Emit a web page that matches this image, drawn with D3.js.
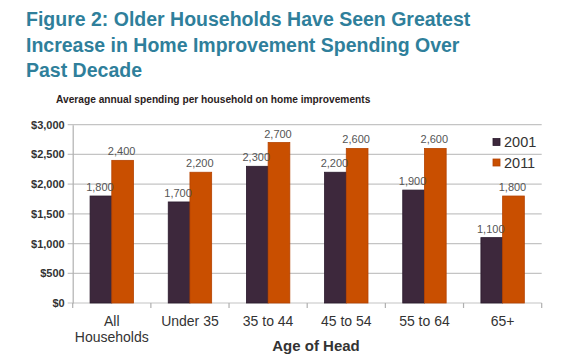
<!DOCTYPE html>
<html>
<head>
<meta charset="UTF-8">
<title>Home Improvement Spending</title>
<style>
html, body {
    margin: 0;
    padding: 0;
    background-color: #ffffff;
}
svg {
    display: block;
    font-family: "Liberation Sans", Arial, sans-serif;
}
.grid line {
    stroke: #c4c4c4;
    stroke-width: 1.2;
}
.y-axis text {
    font-weight: bold;
    font-size: 11px;
    fill: #333333;
}
.x-label {
    font-size: 14px;
    fill: #333333;
}
.value-label {
    font-size: 11px;
    fill: #555555;
}
</style>
</head>
<body>
<div class="chart"></div>
<script src="https://cdn.jsdelivr.net/npm/d3@7/dist/d3.min.js"></script>
<script>
let categories = ['All Households', 'Under 35', '35 to 44', '45 to 54', '55 to 64', '65+'];
let series = ['2001', '2011'];
let values2001 = [1800, 1700, 2300, 2200, 1900, 1100];
let values2011 = [2400, 2200, 2700, 2600, 2600, 1800];
let yTicks = [0, 500, 1000, 1500, 2000, 2500, 3000];

let width = 576, height = 362;
let plotLeft = 72.7, plotRight = 541.7, plotTop = 124.7, plotBottom = 303;
let colors = { '2001': '#3d283c', '2011': '#c94f00' };
let strokes = { '2001': '#2a1a2c', '2011': '#b54200' };

let svg = d3.select('.chart').append('svg')
    .attr('width', width)
    .attr('height', height);

// title
let titleLines = ['Figure 2: Older Households Have Seen Greatest',
    'Increase in Home Improvement Spending Over', 'Past Decade'];
svg.append('g').selectAll('text')
    .data(titleLines)
    .enter().append('text')
    .attr('x', 26)
    .attr('y', (d, i) => 26 + i * 25.5)
    .attr('font-size', '19.5px')
    .attr('font-weight', 'bold')
    .attr('fill', '#2f7f9b')
    .text((d) => d);

svg.append('text')
    .attr('x', 56)
    .attr('y', 103)
    .attr('font-size', '10.2px')
    .attr('font-weight', 'bold')
    .attr('fill', '#2b1d1d')
    .text('Average annual spending per household on home improvements');

let xScale = d3.scaleBand()
    .domain(categories)
    .range([plotLeft, plotRight])
    .padding(0);

let subScale = d3.scaleBand()
    .domain(series)
    .range([0, xScale.bandwidth()])
    .paddingInner(0)
    .paddingOuter(0.8);

let yScale = d3.scaleLinear()
    .domain([0, 3000])
    .range([plotBottom, plotTop]);

// gridlines
svg.append('g')
    .attr('class', 'grid')
    .selectAll('line')
    .data(yTicks)
    .enter().append('line')
    .attr('x1', plotLeft - 5)
    .attr('x2', plotRight)
    .attr('y1', (d) => yScale(d))
    .attr('y2', (d) => yScale(d));

// y axis
let yAxis = d3.axisLeft(yScale)
    .tickValues(yTicks)
    .tickSize(0)
    .tickPadding(8)
    .tickFormat((d) => '$' + d3.format(',')(d));

svg.append('g')
    .attr('class', 'y-axis')
    .attr('transform', 'translate(' + plotLeft + ',0)')
    .call(yAxis)
    .call((g) => g.select('.domain').attr('stroke', '#b0b0b0').attr('stroke-width', 1.2));

// x axis ticks at category boundaries
let bounds = categories.map((c) => xScale(c)).concat([plotRight]);
svg.append('g')
    .selectAll('line')
    .data(bounds)
    .enter().append('line')
    .attr('x1', (d) => d)
    .attr('x2', (d) => d)
    .attr('y1', plotBottom)
    .attr('y2', plotBottom + 5)
    .attr('stroke', '#b0b0b0')
    .attr('stroke-width', 1.2);

// bars
let rows = categories.map((c, i) => ({ cat: c, values: [
    { key: '2001', value: values2001[i] },
    { key: '2011', value: values2011[i] }
] }));

let groups = svg.append('g')
    .selectAll('g')
    .data(rows)
    .enter().append('g')
    .attr('transform', (d) => 'translate(' + xScale(d.cat) + ',0)');

groups.selectAll('rect')
    .data((d) => d.values)
    .enter().append('rect')
    .attr('x', (d) => subScale(d.key))
    .attr('y', (d) => yScale(d.value))
    .attr('width', subScale.bandwidth())
    .attr('height', (d) => plotBottom - yScale(d.value))
    .attr('fill', (d) => colors[d.key])
    .attr('stroke', (d) => strokes[d.key])
    .attr('stroke-width', 0.8);

groups.selectAll('.value-label')
    .data((d) => d.values)
    .enter().append('text')
    .attr('class', 'value-label')
    .attr('x', (d) => subScale(d.key) + subScale.bandwidth() / 2 - 1)
    .attr('y', (d) => yScale(d.value) - 5)
    .attr('text-anchor', 'middle')
    .text((d) => d3.format(',')(d.value));

// category labels
let xl = svg.append('g')
    .selectAll('text')
    .data(categories)
    .enter().append('text')
    .attr('class', 'x-label')
    .attr('text-anchor', 'middle')
    .attr('x', (d) => xScale(d) + xScale.bandwidth() / 2)
    .attr('y', 326);

xl.each(function (d) {
    let words = d === 'All Households' ? ['All', 'Households'] : [d];
    d3.select(this).selectAll('tspan')
        .data(words)
        .enter().append('tspan')
        .attr('x', xScale(d) + xScale.bandwidth() / 2)
        .attr('dy', (w, i) => i === 0 ? 0 : 16)
        .text((w) => w);
});

svg.append('text')
    .attr('x', 316)
    .attr('y', 351)
    .attr('text-anchor', 'middle')
    .attr('font-size', '15px')
    .attr('font-weight', 'bold')
    .attr('fill', '#333333')
    .text('Age of Head');

// legend
let legend = svg.append('g')
    .selectAll('g')
    .data(series)
    .enter().append('g')
    .attr('transform', (d, i) => 'translate(493,' + (138.5 + i * 20.5) + ')');

legend.append('rect')
    .attr('width', 7)
    .attr('height', 7)
    .attr('fill', (d) => colors[d])
    .attr('stroke', (d) => strokes[d])
    .attr('stroke-width', 0.8);

legend.append('text')
    .attr('x', 11)
    .attr('y', 8.5)
    .attr('font-size', '14.5px')
    .attr('fill', '#333333')
    .text((d) => d);
</script>
</body>
</html>
